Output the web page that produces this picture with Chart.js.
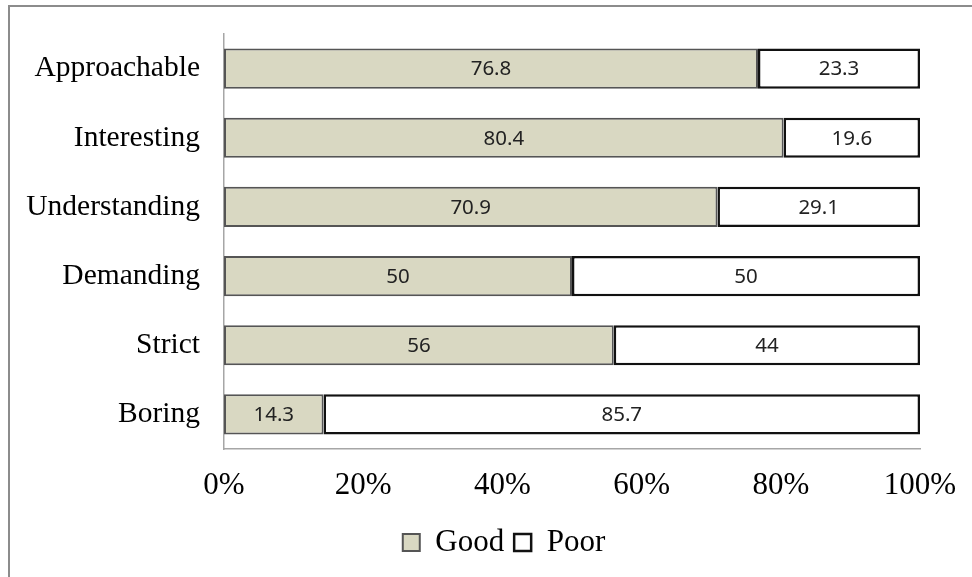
<!DOCTYPE html>
<html>
<head>
<meta charset="utf-8">
<script src="https://cdn.jsdelivr.net/npm/chart.js@4"></script>
<style>
html,body{margin:0;padding:0;background:#fff}
#wrap{position:relative;width:972px;height:577px}
#frame{position:absolute;left:8px;top:5px;right:0;bottom:0;border-left:2px solid #8c8c8c;border-top:2px solid #8c8c8c;pointer-events:none}
</style>
</head>
<body>
<div id="wrap">
<canvas id="grafico" width="972" height="577"></canvas>
<div id="frame"></div>
</div>
<script>
let categorias=['Approachable','Interesting','Understanding','Demanding','Strict','Boring']
let good=[76.8,80.4,70.9,50,56,14.3]
let poor=[23.3,19.6,29.1,50,44,85.7]
let ticksX=['0%','20%','40%','60%','80%','100%']

// 100% stacked: each row scaled to its total
let total=categorias.map((c,i)=>good[i]+poor[i])
let goodPct=good.map((v,i)=>v/total[i]*100)
let poorPct=poor.map((v,i)=>v/total[i]*100)
let brutos=[good,poor]

let rotulos={
id:'rotulos',
afterLayout(chart){
// legend sits a bit right of the canvas centre
chart.legend.left=88
},
afterDatasetsDraw(chart){
let ctx=chart.ctx
ctx.save()
ctx.font='20.5px "Noto Sans"'
ctx.fillStyle='#222'
ctx.textAlign='center'
ctx.textBaseline='middle'
chart.data.datasets.forEach((ds,d)=>{
chart.getDatasetMeta(d).data.forEach((bar,i)=>{
let p=bar.getProps(['x','y','base'],true)
ctx.fillText(String(brutos[d][i]),(p.x+p.base)/2,p.y+1)
})
})
ctx.restore()
}
}

let serif='"Liberation Serif","Times New Roman",serif'

new Chart(document.getElementById('grafico'),{
type:'bar',
data:{
labels:categorias,
datasets:[{
label:'Good',
data:goodPct,
backgroundColor:'#d9d8c2',
borderColor:'#555555',
borderWidth:2,
borderSkipped:false,
categoryPercentage:0.58,
barPercentage:1
},{
label:'Poor',
data:poorPct,
backgroundColor:'#ffffff',
borderColor:'#111111',
borderWidth:2.5,
borderSkipped:false,
categoryPercentage:0.58,
barPercentage:1
}]
},
options:{
indexAxis:'y',
responsive:false,
animation:false,
layout:{padding:{top:34,right:52,bottom:9,left:0}},
scales:{
x:{
stacked:true,
min:0,
max:100,
grid:{display:false,drawTicks:false},
border:{display:true,color:'#a6a6a6',width:1.5},
afterBuildTicks(ax){
ax.ticks=ticksX.map((t,i)=>({value:i*20}))
},
ticks:{
color:'#000',
padding:18,
font:{family:serif,size:31},
callback:(v,i)=>ticksX[i]
},
afterFit(ax){
ax.height=68
ax.paddingLeft=0
ax.paddingRight=0
}
},
y:{
stacked:true,
grid:{display:false,drawTicks:false},
border:{display:true,color:'#a6a6a6',width:1.5},
ticks:{
color:'#000',
padding:24,
font:{family:serif,size:29.5}
},
afterFit(ax){
ax.width=224
ax.paddingTop=0
ax.paddingBottom=0
}
}
},
plugins:{
legend:{
position:'bottom',
labels:{
color:'#000',
boxWidth:17,
boxHeight:17,
padding:10,
font:{family:serif,size:31}
}
},
tooltip:{enabled:false}
}
},
plugins:[rotulos]
})
</script>
</body>
</html>
